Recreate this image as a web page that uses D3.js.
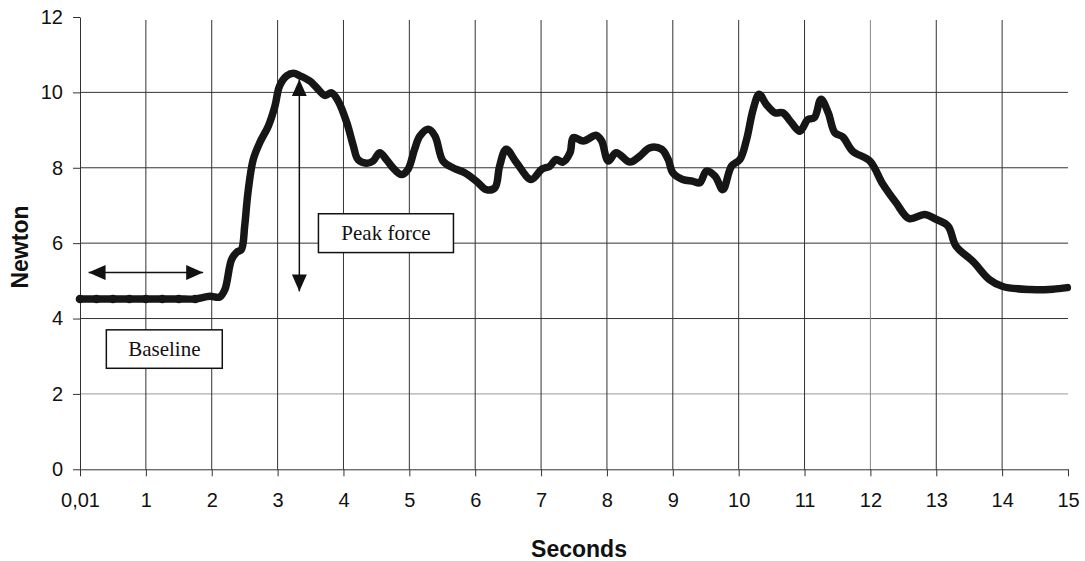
<!DOCTYPE html>
<html>
<head>
<meta charset="utf-8">
<script src="https://cdn.jsdelivr.net/npm/d3@7"></script>
<style>
  body { margin: 0; background: #fff; }
  .tick text { font-family: "Liberation Sans", Arial, sans-serif; font-size: 20px; fill: #111; }
  .titulo { font-family: "Liberation Sans", Arial, sans-serif; font-size: 23px; font-weight: bold; fill: #111; }
  .nota { font-family: "Liberation Serif", "Times New Roman", serif; font-size: 21px; fill: #111; }
</style>
</head>
<body>
<div id="graf"></div>
<script>
// Etiquetas del eje X (categorías) y del eje Y
const xEtiquetas = ['0,01', '1', '2', '3', '4', '5', '6', '7', '8', '9', '10', '11', '12', '13', '14', '15']
const yTicks = [0, 2, 4, 6, 8, 10, 12]

// Serie: segundos y newton
const segundos = [0, 0.25, 0.5, 0.75, 1, 1.25, 1.5, 1.75, 1.97, 2.12, 2.2, 2.3, 2.38, 2.45, 2.5, 2.55, 2.63, 2.73, 2.86, 2.96,
    3.03, 3.14, 3.24, 3.34, 3.49, 3.59, 3.72, 3.82, 3.92, 4.05, 4.15, 4.22, 4.35, 4.45, 4.55, 4.65, 4.75, 4.88, 4.98,
    5.08, 5.16, 5.29, 5.39, 5.51, 5.66, 5.84, 6.02, 6.17, 6.3, 6.37, 6.47, 6.63, 6.85, 7.01, 7.13, 7.23, 7.33, 7.44,
    7.49, 7.64, 7.84, 7.92, 8.02, 8.14, 8.35, 8.5, 8.65, 8.83, 8.93, 9.0, 9.15, 9.31, 9.41, 9.51, 9.64, 9.76, 9.89,
    10.02, 10.12, 10.22, 10.31, 10.42, 10.55, 10.67, 10.8, 10.93, 11.05, 11.15, 11.25, 11.36, 11.46, 11.58, 11.73,
    11.99, 12.19, 12.39, 12.59, 12.82, 13.0, 13.18, 13.3, 13.56, 13.81, 14.01, 14.42, 14.77, 14.99]
const newton = [4.52, 4.52, 4.52, 4.52, 4.52, 4.52, 4.52, 4.52, 4.59, 4.57, 4.77, 5.56, 5.76, 5.83, 6.45, 7.34, 8.22, 8.67, 9.11, 9.64,
    10.17, 10.44, 10.51, 10.44, 10.3, 10.13, 9.92, 9.99, 9.77, 9.2, 8.58, 8.22, 8.12, 8.18, 8.4, 8.22, 8.0, 7.82, 7.96,
    8.49, 8.84, 9.02, 8.84, 8.18, 8.0, 7.87, 7.64, 7.42, 7.47, 8.04, 8.49, 8.13, 7.69, 7.96, 8.04, 8.22, 8.15, 8.4,
    8.8, 8.71, 8.86, 8.71, 8.18, 8.4, 8.15, 8.31, 8.53, 8.49, 8.22, 7.87, 7.69, 7.64, 7.6, 7.91, 7.78, 7.42, 8.04,
    8.22, 8.75, 9.55, 9.95, 9.68, 9.46, 9.46, 9.2, 8.97, 9.28, 9.33, 9.82, 9.46, 8.93, 8.82, 8.44,
    8.18, 7.56, 7.07, 6.65, 6.76, 6.63, 6.45, 5.92, 5.51, 5.03, 4.85, 4.77, 4.78, 4.82]

// Anotaciones (en unidades de datos)
const flechaBase = { x1: 0.13, x2: 1.87, y: 5.22 }
const flechaPico = { x: 3.33, y1: 10.35, y2: 4.72 }
const cajaPico = { x1: 3.62, x2: 5.67, y1: 6.78, y2: 5.75, texto: 'Peak force' }
const cajaBase = { x1: 0.4, x2: 2.16, y1: 3.7, y2: 2.68, texto: 'Baseline' }

const ancho = 1085
const alto = 561

const svg = d3.select('#graf')
    .append('svg')
    .attr('width', ancho)
    .attr('height', alto)

const x = d3.scaleLinear().domain([0, 15]).range([80, 1068])
const y = d3.scaleLinear().domain([0, 12]).range([469.3, 17])

// Flechas
const defs = svg.append('defs')
defs.append('marker')
    .attr('id', 'punta')
    .attr('viewBox', '0 0 17 15')
    .attr('refX', 17)
    .attr('refY', 7.5)
    .attr('markerWidth', 17)
    .attr('markerHeight', 15)
    .attr('markerUnits', 'userSpaceOnUse')
    .attr('orient', 'auto-start-reverse')
    .append('path')
    .attr('d', 'M0,0 L17,7.5 L0,15 Z')
    .attr('fill', '#111')

// Rejilla horizontal
svg.append('g')
    .selectAll('line')
    .data(yTicks.filter(d => d > 0 && d < 12))
    .enter()
    .append('line')
    .attr('x1', x(0))
    .attr('x2', x(15))
    .attr('y1', d => y(d))
    .attr('y2', d => y(d))
    .attr('stroke', d => d === 2 ? '#9a9a9a' : '#333')
    .attr('stroke-width', 1)

// Rejilla vertical
svg.append('g')
    .selectAll('line')
    .data(d3.range(1, 15))
    .enter()
    .append('line')
    .attr('x1', d => x(d))
    .attr('x2', d => x(d))
    .attr('y1', y(11.92))
    .attr('y2', y(0))
    .attr('stroke', d => d === 12 ? '#888' : '#333')
    .attr('stroke-width', 1)

// Ejes
const xAxis = d3.axisBottom(x)
    .tickValues(d3.range(0, 16))
    .tickFormat((d, i) => xEtiquetas[i])
    .tickSize(7)
    .tickPadding(17)
    .tickSizeOuter(0)

const yAxis = d3.axisLeft(y)
    .tickValues(yTicks)
    .tickSize(7)
    .tickPadding(10)
    .tickSizeOuter(0)

svg.append('g')
    .attr('transform', `translate(0, ${y(0)})`)
    .call(xAxis)
svg.append('g')
    .attr('transform', `translate(${x(0)}, 0)`)
    .call(yAxis)

svg.selectAll('.domain').attr('stroke', '#333')
svg.selectAll('.tick line').attr('stroke', '#333')

// Títulos de ejes
svg.append('text')
    .attr('class', 'titulo')
    .attr('x', 579)
    .attr('y', 557)
    .attr('text-anchor', 'middle')
    .text('Seconds')

svg.append('text')
    .attr('class', 'titulo')
    .attr('transform', 'translate(28, 247) rotate(-90)')
    .attr('text-anchor', 'middle')
    .text('Newton')

// Línea de datos
const puntos = segundos.map((s, i) => ({ s: s, n: newton[i] }))
const linea = d3.line()
    .x(d => x(d.s))
    .y(d => y(d.n))
    .curve(d3.curveCatmullRom.alpha(0.5))

svg.append('path')
    .datum(puntos)
    .attr('d', linea)
    .attr('fill', 'none')
    .attr('stroke', '#161616')
    .attr('stroke-width', 7.5)
    .attr('stroke-linejoin', 'round')
    .attr('stroke-linecap', 'round')

svg.append('g')
    .selectAll('circle')
    .data(puntos.filter(d => d.s < 1.9))
    .enter()
    .append('circle')
    .attr('cx', d => x(d.s))
    .attr('cy', d => y(d.n))
    .attr('r', 4.3)
    .attr('fill', '#161616')

// Flecha de línea base
svg.append('line')
    .attr('x1', x(flechaBase.x1))
    .attr('x2', x(flechaBase.x2))
    .attr('y1', y(flechaBase.y))
    .attr('y2', y(flechaBase.y))
    .attr('stroke', '#111')
    .attr('stroke-width', 1.5)
    .attr('marker-start', 'url(#punta)')
    .attr('marker-end', 'url(#punta)')

// Flecha de fuerza pico
svg.append('line')
    .attr('x1', x(flechaPico.x))
    .attr('x2', x(flechaPico.x))
    .attr('y1', y(flechaPico.y1))
    .attr('y2', y(flechaPico.y2))
    .attr('stroke', '#111')
    .attr('stroke-width', 1.5)
    .attr('marker-start', 'url(#punta)')
    .attr('marker-end', 'url(#punta)')

// Cajas de texto
;[cajaPico, cajaBase].forEach(c => {
    svg.append('rect')
        .attr('x', x(c.x1))
        .attr('y', y(c.y1))
        .attr('width', x(c.x2) - x(c.x1))
        .attr('height', y(c.y2) - y(c.y1))
        .attr('fill', '#fff')
        .attr('stroke', '#111')
        .attr('stroke-width', 1.5)
    svg.append('text')
        .attr('class', 'nota')
        .attr('x', (x(c.x1) + x(c.x2)) / 2)
        .attr('y', (y(c.y1) + y(c.y2)) / 2 + 7)
        .attr('text-anchor', 'middle')
        .text(c.texto)
})
</script>
</body>
</html>
